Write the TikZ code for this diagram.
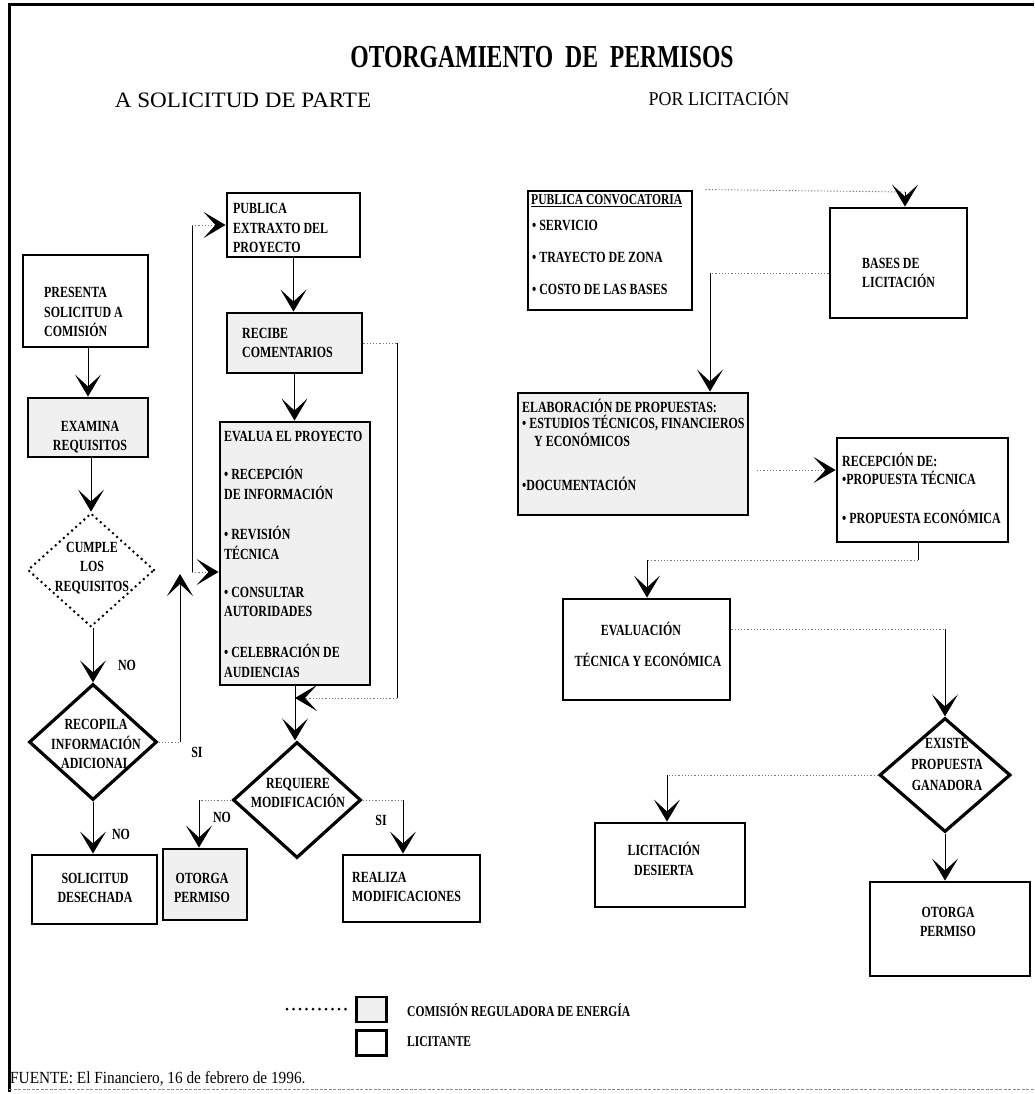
\documentclass[tikz,border=0pt]{standalone}
\usepackage{fontspec}
\setmainfont{Liberation Serif}
\newfontfamily\condfont[FakeStretch=0.77]{Liberation Serif}
\newfontfamily\titlefont[FakeStretch=0.74]{Liberation Serif}
\newfontfamily\srcfont[FakeStretch=0.9]{Liberation Serif}
\newfontfamily\subfont[FakeStretch=0.92]{Liberation Serif}
\newfontfamily\widefont[FakeStretch=1.05]{Liberation Serif}
\usetikzlibrary{arrows.meta,shapes.geometric,calc}

\tikzset{
  box/.style={draw, rectangle, line width=2.9pt, inner sep=0pt},
  cre/.style={fill=black!6},
  decision/.style={draw, diamond, line width=3.2pt, inner sep=0pt},
  dotdecision/.style={draw, diamond, line width=2.8pt, dash pattern=on 0pt off 5.5pt, line cap=round, inner sep=0pt},
  txt/.style={font=\condfont\bfseries\fontsize{15.5}{19.5}\selectfont, inner sep=0pt, align=left},
  ctxt/.style={txt, align=center},
  lbl/.style={font=\condfont\bfseries\fontsize{15.5}{17}\selectfont, inner sep=0pt},
  conn/.style={line width=0.8pt},
  dotline/.style={line width=0.9pt, black!55, dash pattern=on 1.2pt off 2pt},
  arr/.style={-{Stealth[length=22pt,width=26pt,inset=12pt,color=black]}},
}

\begin{document}
\begin{tikzpicture}[x=1pt,y=-1pt]
\fill[white] (0,0) rectangle (1034,1094);
\useasboundingbox (0,0) rectangle (1034,1094);

% frame
\draw[line width=3pt] (9,1092) -- (9,5) -- (1034,5);
\draw[black!45, line width=0.8pt, dash pattern=on 3pt off 1.5pt] (9,1089) -- (1034,1089);

% headings
\node[font=\titlefont\bfseries\fontsize{32}{34}\selectfont] (title) at (542,57) {OTORGAMIENTO\ \ DE\ \ PERMISOS};
\node[font=\widefont\fontsize{22}{24}\selectfont] (subA) at (243,100) {A SOLICITUD DE PARTE};
\node[font=\subfont\fontsize{19.5}{21}\selectfont] (subB) at (719,97) {POR LICITACIÓN};

% ---------- A solicitud de parte ----------
\node[box, minimum width=125pt, minimum height=92pt] (pres) at (85.5,301) {};
\node[txt, anchor=west] (presT) at (44,312) {PRESENTA\\SOLICITUD A\\COMISIÓN};

\node[box, cre, minimum width=120pt, minimum height=59pt] (exam) at (88,427.5) {};
\node[ctxt] (examT) at (90,437) {EXAMINA\\REQUISITOS};

\node[dotdecision, minimum width=127pt, minimum height=114pt] (cumple) at (91,570) {};
\node[ctxt] (cumpleT) at (92,568) {CUMPLE\\LOS\\REQUISITOS};

\node[decision, minimum width=128pt, minimum height=116pt] (recop) at (93,742) {};
\node[ctxt] (recopT) at (96,744) {RECOPILA\\INFORMACIÓN\\ADICIONAL};

\node[box, minimum width=125pt, minimum height=69pt] (desech) at (94.5,889.5) {};
\node[ctxt] (desechT) at (95,888) {SOLICITUD\\DESECHADA};

\node[box, minimum width=133pt, minimum height=64pt] (publ) at (293.5,225) {};
\node[txt, anchor=west] (publT) at (233,228) {PUBLICA\\EXTRAXTO DEL\\PROYECTO};

\node[box, cre, minimum width=135pt, minimum height=60pt] (recib) at (294.5,343) {};
\node[txt, anchor=west] (recibT) at (242,343) {RECIBE\\COMENTARIOS};

\node[box, cre, minimum width=150pt, minimum height=263pt] (evalua) at (295,553.5) {};
\node[txt, anchor=west] (evaluaT) at (224,436) {EVALUA EL PROYECTO};
\node[txt, anchor=west] (evA) at (224,483) {• RECEPCIÓN\\DE INFORMACIÓN};
\node[txt, anchor=west] (evB) at (224,543) {• REVISIÓN\\TÉCNICA};
\node[txt, anchor=west] (evC) at (224,602) {• CONSULTAR\\AUTORIDADES};
\node[txt, anchor=west] (evD) at (224,661) {• CELEBRACIÓN DE\\AUDIENCIAS};

\node[decision, minimum width=128pt, minimum height=116pt] (requiere) at (297,800) {};
\node[ctxt] (requiereT) at (298,793) {REQUIERE\\MODIFICACIÓN};

\node[box, cre, minimum width=84pt, minimum height=71pt] (otorgaA) at (205,884.5) {};
\node[ctxt] (otorgaAT) at (202,888) {OTORGA\\PERMISO};

\node[box, minimum width=137pt, minimum height=67pt] (realiza) at (411.5,888.5) {};
\node[txt, anchor=west] (realizaT) at (352,887) {REALIZA\\MODIFICACIONES};

% connectors, left flow
\draw[conn,arr] (exam.north |- pres.south) -- (exam.north);
\draw[conn,arr] (cumple.north |- exam.south) -- (cumple.north);
\draw[conn,arr] (recop.north |- cumple.south) -- (recop.north);
\node[lbl] (noA) at (127,665) {NO};
\draw[conn,arr] (recop.south) -- (recop.south |- desech.north);
\node[lbl] (noB) at (121,834) {NO};

\coordinate (siTurn) at (180,742);
\coordinate (siEnd) at (180,574);
\draw[dotline] (recop.east) -- (siTurn);
\draw[conn,arr] (siTurn) -- (siEnd);
\node[lbl] (siA) at (197,752) {SI};

\coordinate (loopTop) at (192,225);
\coordinate (loopBot) at (192,572);
\draw[conn] (loopBot) -- (loopTop);
\draw[dotline,arr] (loopTop) -- (publ.west);
\draw[dotline,arr] (loopBot) -- (loopBot -| evalua.west);

\draw[conn,arr] (publ.south) -- (publ.south |- recib.north);
\draw[conn,arr] (recib.south) -- (recib.south |- evalua.north);

\coordinate (fbA) at (397,343);
\coordinate (fbB) at (397,698);
\draw[dotline] (recib.east) -- (fbA);
\draw[conn] (fbA) -- (fbB);
\draw[conn,arr] (evalua.south) -- (evalua.south |- requiere.north);
\draw[dotline,arr] (fbB) -- (evalua.south |- fbB);

\coordinate (noTurn) at (199,800);
\draw[dotline] (requiere.west) -- (noTurn);
\draw[conn,arr] (noTurn) -- (noTurn |- otorgaA.north);
\node[lbl] (noC) at (222,817) {NO};

\coordinate (siTurnB) at (403,800);
\draw[dotline] (requiere.east) -- (siTurnB);
\draw[conn,arr] (siTurnB) -- (siTurnB |- realiza.north);
\node[lbl] (siB) at (381,820) {SI};

% ---------- Por licitacion ----------
\node[box, minimum width=164pt, minimum height=119pt] (pconv) at (610,250.5) {};
\node[txt, anchor=west, font=\condfont\bfseries\fontsize{15}{16}\selectfont] (pconvT) at (531,201) {\underline{PUBLICA CONVOCATORIA}};
\node[txt, anchor=west] (pcA) at (532,225) {• SERVICIO};
\node[txt, anchor=west] (pcB) at (532,257) {• TRAYECTO DE ZONA};
\node[txt, anchor=west] (pcC) at (532,289) {• COSTO DE LAS BASES};

\node[box, minimum width=137pt, minimum height=110pt] (bases) at (898.5,263) {};
\node[txt, anchor=west] (basesT) at (862,273) {BASES DE\\LICITACIÓN};

\node[box, cre, minimum width=230pt, minimum height=122pt] (elab) at (633,454) {};
\node[txt, anchor=west] (elabT) at (522,406) {ELABORACIÓN DE PROPUESTAS:};
\node[txt, anchor=west] (elA) at (522,423) {• ESTUDIOS TÉCNICOS, FINANCIEROS};
\node[txt, anchor=west] (elB) at (534,440) {Y ECONÓMICOS};
\node[txt, anchor=west] (elC) at (522,484) {•DOCUMENTACIÓN};

\node[box, minimum width=171pt, minimum height=104pt] (recep) at (922.5,490) {};
\node[txt, anchor=west] (recepT) at (842,460) {RECEPCIÓN DE:};
\node[txt, anchor=west] (reA1) at (842,478) {•PROPUESTA TÉCNICA};
\node[txt, anchor=west] (reA2) at (842,517) {• PROPUESTA ECONÓMICA};

\node[box, minimum width=167pt, minimum height=101pt] (evaluac) at (646.5,649.5) {};
\node[ctxt] (evaluacA) at (641,629) {EVALUACIÓN};
\node[ctxt] (evaluacB) at (648,660) {TÉCNICA Y ECONÓMICA};

\node[decision, minimum width=131pt, minimum height=114pt] (existe) at (945,775) {};
\node[ctxt, font=\condfont\bfseries\fontsize{15.5}{21}\selectfont] (existeT) at (947,764) {EXISTE\\PROPUESTA\\GANADORA};

\node[box, minimum width=150pt, minimum height=84pt] (desierta) at (670,865) {};
\node[ctxt] (desiertaT) at (664,859) {LICITACIÓN\\DESIERTA};

\node[box, minimum width=160pt, minimum height=94pt] (otorgaB) at (950,929) {};
\node[ctxt] (otorgaBT) at (948,922) {OTORGA\\PERMISO};

% connectors, right flow
\coordinate (cvB) at (905,192);
\draw[dotline] ([xshift=12pt]pconv.north east) -- (cvB);
\draw[conn,arr] (cvB) -- (cvB |- bases.north);

\coordinate (bsTurn) at (710,273);
\draw[dotline] (bases.west |- bsTurn) -- (bsTurn);
\draw[conn,arr] (bsTurn) -- (bsTurn |- elab.north);

\coordinate (erA) at (757,470);
\draw[dotline,arr] (erA) -- (erA -| recep.west);

\coordinate (rcA) at (918,560);
\coordinate (rcB) at (647,560);
\draw[conn] (recep.south -| rcA) -- (rcA);
\draw[dotline] (rcA) -- (rcB);
\draw[conn,arr] (rcB) -- (rcB |- evaluac.north);

\coordinate (evTurn) at (945,629);
\draw[dotline] (evaluac.east |- evTurn) -- (evTurn);
\draw[conn,arr] (evTurn) -- (existe.north);

\coordinate (exTurn) at (667,775);
\draw[dotline] (existe.west) -- (exTurn);
\draw[conn,arr] (exTurn) -- (exTurn |- desierta.north);
\draw[conn,arr] (existe.south) -- (existe.south |- otorgaB.north);

% ---------- legend and source ----------
\coordinate (lgA) at (287,1009);
\coordinate (lgB) at (346,1009);
\draw[line width=3pt, dash pattern=on 0pt off 6.5pt, line cap=round] (lgA) -- (lgB);
\node[box, cre, line width=2.4pt, minimum width=30pt, minimum height=25pt] (lgCre) at (371.5,1009.5) {};
\node[box, line width=2.4pt, minimum width=30pt, minimum height=25pt] (lgLic) at (371.5,1043) {};
\node[txt, anchor=west, font=\condfont\bfseries\fontsize{15}{16}\selectfont] (lgCreT) at (407,1010) {COMISIÓN REGULADORA DE ENERGÍA};
\node[txt, anchor=west, font=\condfont\bfseries\fontsize{15}{16}\selectfont] (lgLicT) at (407,1042) {LICITANTE};

\node[anchor=west, inner sep=0pt, font=\srcfont\fontsize{17}{19}\selectfont] (src) at (10,1079) {FUENTE: El Financiero, 16 de febrero de 1996.};
\end{tikzpicture}
\end{document}
